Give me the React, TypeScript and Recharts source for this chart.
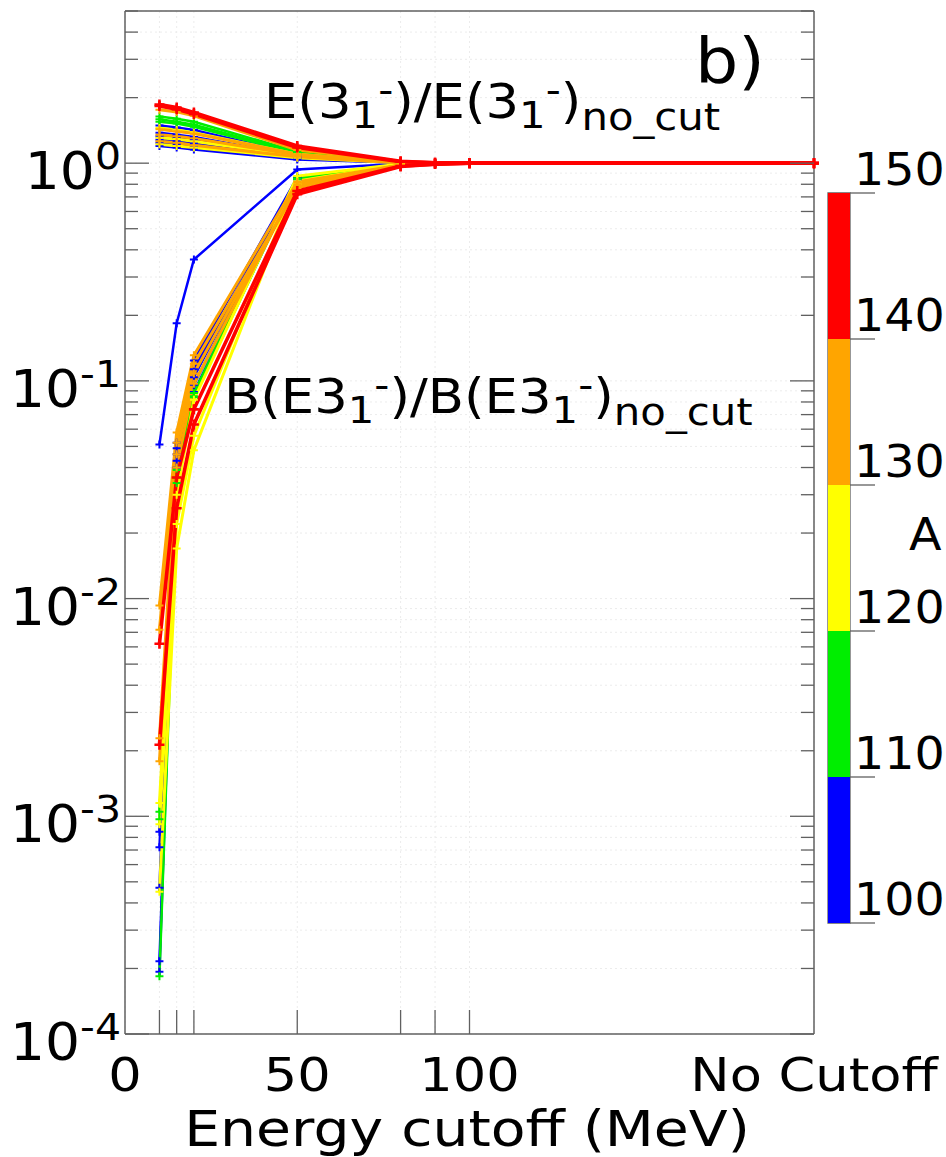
import { LineChart, Line, XAxis, YAxis, CartesianGrid, BarChart, Bar, ReferenceArea } from 'recharts';

const FONT = '"DejaVu Sans", sans-serif';

// energy cutoffs in MeV; 200 stands for the uncut calculation
const CUTOFFS = [10, 15, 20, 50, 80, 90, 100, 200];
const X_MARKS = [10, 15, 20, 50, 80, 90, 100];
const X_LABELS: Record<number, string> = { 0: '0', 50: '50', 100: '100', 200: 'No Cutoff' };

// mass number of each nucleus, one row of E_RATIO / B_RATIO per entry
const MASS = [100, 101, 102, 104, 106, 108, 112, 114, 116, 120, 124, 128, 130, 132, 134, 136, 140, 144];

const E_RATIO = [
  [1.2, 1.18, 1.155, 1.04, 1.005, 1.0, 1.0, 1.0],
  [1.49, 1.46, 1.42, 1.1, 1.01, 1.0, 1.0, 1.0],
  [1.38, 1.35, 1.32, 1.08, 1.01, 1.0, 1.0, 1.0],
  [1.33, 1.31, 1.28, 1.07, 1.01, 1.0, 1.0, 1.0],
  [1.28, 1.26, 1.23, 1.06, 1.005, 1.0, 1.0, 1.0],
  [1.24, 1.22, 1.19, 1.05, 1.005, 1.0, 1.0, 1.0],
  [1.64, 1.6, 1.55, 1.13, 1.01, 1.0, 1.0, 1.0],
  [1.59, 1.55, 1.5, 1.12, 1.01, 1.0, 1.0, 1.0],
  [1.55, 1.52, 1.47, 1.11, 1.01, 1.0, 1.0, 1.0],
  [1.31, 1.29, 1.26, 1.08, 1.01, 1.0, 1.0, 1.0],
  [1.22, 1.2, 1.18, 1.06, 1.005, 1.0, 1.0, 1.0],
  [1.45, 1.42, 1.38, 1.1, 1.01, 1.0, 1.0, 1.0],
  [1.26, 1.24, 1.21, 1.07, 1.005, 1.0, 1.0, 1.0],
  [1.35, 1.33, 1.3, 1.09, 1.01, 1.0, 1.0, 1.0],
  [1.43, 1.4, 1.37, 1.1, 1.01, 1.0, 1.0, 1.0],
  [1.76, 1.72, 1.65, 1.15, 1.015, 1.005, 1.0, 1.0],
  [1.83, 1.77, 1.68, 1.18, 1.015, 1.005, 1.0, 1.0],
  [1.86, 1.8, 1.71, 1.2, 1.02, 1.005, 1.0, 1.0],
];

const B_RATIO = [
  [0.051, 0.184, 0.361, 0.935, 0.995, 1.0, 1.0, 1.0],
  [0.00085, 0.052, 0.124, 0.86, 0.985, 0.995, 1.0, 1.0],
  [0.00072, 0.049, 0.113, 0.855, 0.985, 0.995, 1.0, 1.0],
  [0.00047, 0.046, 0.104, 0.85, 0.985, 0.995, 1.0, 1.0],
  [0.000216, 0.043, 0.096, 0.845, 0.985, 0.995, 1.0, 1.0],
  [0.000193, 0.04, 0.089, 0.84, 0.985, 0.995, 1.0, 1.0],
  [0.00105, 0.039, 0.088, 0.85, 0.985, 0.995, 1.0, 1.0],
  [0.000184, 0.034, 0.084, 0.845, 0.985, 0.995, 1.0, 1.0],
  [0.00097, 0.036, 0.085, 0.85, 0.985, 0.995, 1.0, 1.0],
  [0.00115, 0.03, 0.082, 0.872, 0.99, 0.995, 1.0, 1.0],
  [0.00045, 0.017, 0.048, 0.8, 0.98, 0.995, 1.0, 1.0],
  [0.00092, 0.022, 0.056, 0.827, 0.985, 0.995, 1.0, 1.0],
  [0.00179, 0.04, 0.097, 0.8, 0.98, 0.995, 1.0, 1.0],
  [0.00228, 0.046, 0.108, 0.785, 0.98, 0.995, 1.0, 1.0],
  [0.0072, 0.052, 0.12, 0.77, 0.975, 0.995, 1.0, 1.0],
  [0.0093, 0.058, 0.131, 0.82, 0.98, 0.995, 1.0, 1.0],
  [0.00213, 0.026, 0.063, 0.72, 0.965, 0.99, 1.0, 1.0],
  [0.0062, 0.036, 0.074, 0.745, 0.97, 0.99, 1.0, 1.0],
];

// colour scale for A
const BAND_EDGES = [100, 110, 120, 130, 140, 150];
const BAND_COLORS = ['#0000ff', '#00ee00', '#ffff00', '#ffa500', '#ff0000'];
const BAND_WIDTHS = [2.5, 2.5, 3, 3, 3.6];

const bandOf = (a: number) => {
  for (let i = 1; i < BAND_EDGES.length; i++) if (a < BAND_EDGES[i]) return i - 1;
  return BAND_COLORS.length - 1;
};

// log axis ticks: 1..9 per decade up to 5
const Y_TICKS: number[] = [];
for (let d = -4; d <= 0; d++) {
  for (let m = 1; m <= 9; m++) {
    if (d === 0 && m > 5) break;
    Y_TICKS.push(Number((m * Math.pow(10, d)).toPrecision(3)));
  }
}
const isMajor = (v: number) => Math.abs(Math.log10(v) - Math.round(Math.log10(v))) < 1e-6;

const data = CUTOFFS.map((c, j) => {
  const row: Record<string, number> = { cut: c };
  MASS.forEach((_, i) => {
    row['e' + i] = E_RATIO[i][j];
    row['b' + i] = B_RATIO[i][j];
  });
  return row;
});

const colorbarRow = [
  BAND_EDGES.slice(1).reduce((acc, edge, i) => {
    acc['s' + i] = i === 0 ? edge : edge - BAND_EDGES[i];
    return acc;
  }, {} as Record<string, number>),
];

const AXIS = '#606060';

const BottomTick = ({ x, y, payload }: any) => {
  const v = payload.value;
  return (
    <g>
      {X_MARKS.includes(v) && <line x1={x} x2={x} y1={y} y2={y - 24} stroke={AXIS} strokeWidth={1.3} />}
      {X_LABELS[v] !== undefined && (
        <text transform={`translate(${x},${y + 57}) scale(1.12,1)`} textAnchor="middle" fontSize={47} fontFamily={FONT} fill="#000">
          {X_LABELS[v]}
        </text>
      )}
    </g>
  );
};

const TopTick = ({ x, y, payload }: any) =>
  X_MARKS.includes(payload.value) ? <line x1={x} x2={x} y1={y} y2={y + 24} stroke={AXIS} strokeWidth={1.3} /> : <g />;

const LeftTick = ({ x, y, payload }: any) => {
  const v = payload.value;
  const major = isMajor(v);
  const exp = Math.round(Math.log10(v));
  return (
    <g>
      <line x1={x} x2={x + (major ? 24 : 13)} y1={y} y2={y} stroke={AXIS} strokeWidth={1.3} />
      {major && (
        <text transform={`translate(${x - 4},${y + 26}) scale(1.08,1)`} textAnchor="end" fontSize={51} fontFamily={FONT} fill="#000">
          <tspan>10</tspan>
          <tspan fontSize={38} dy={-20}>{exp}</tspan>
        </text>
      )}
    </g>
  );
};

const RightTick = ({ x, y, payload }: any) => (
  <line x1={x} x2={x - (isMajor(payload.value) ? 24 : 13)} y1={y} y2={y} stroke={AXIS} strokeWidth={1.3} />
);

const ColorbarTick = ({ x, y, payload }: any) => (
  <g>
    <line x1={x} x2={x + 25} y1={y} y2={y} stroke={AXIS} strokeWidth={1.3} />
    <text transform={`translate(${x + 4},${y - 8}) scale(1.08,1)`} fontSize={44} fontFamily={FONT} fill="#000">
      {payload.value}
    </text>
  </g>
);

const crossDot = (color: string, w: number) => (p: any) => {
  if (p.cx == null || p.cy == null) return <g key={`${p.dataKey}-${p.index}`} />;
  const s = w > 3 ? 5 : 4;
  return (
    <path
      key={`${p.dataKey}-${p.index}`}
      d={`M${p.cx - s},${p.cy}h${2 * s}M${p.cx},${p.cy - s}v${2 * s}`}
      stroke={color}
      strokeWidth={w > 3 ? 2.6 : 2}
      fill="none"
    />
  );
};

// subscript inside the ratio labels
const Sub = ({ children }: any) => <tspan fontSize={38} dy={10}>{children}</tspan>;

export default function App() {
  return (
    <div style={{ position: 'absolute', left: 0, top: 0, width: 946, height: 1157, background: '#fff', fontFamily: FONT }}>
      <div style={{ position: 'absolute', left: 0, top: 0 }}>
        <LineChart width={946} height={1157} data={data} margin={{ top: 0, right: 0, bottom: 0, left: 0 }}>
          <CartesianGrid xAxisId="x" yAxisId="y" stroke="#ececec" strokeDasharray="2 3" />
          <XAxis
            xAxisId="x"
            dataKey="cut"
            type="number"
            domain={[0, 200]}
            ticks={[0, ...X_MARKS, 200]}
            interval={0}
            height={123}
            tickSize={0}
            tickMargin={0}
            tickLine={false}
            axisLine={{ stroke: AXIS, strokeWidth: 1.5 }}
            tick={<BottomTick />}
          />
          <XAxis
            xAxisId="xt"
            orientation="top"
            type="number"
            domain={[0, 200]}
            ticks={X_MARKS}
            interval={0}
            height={11}
            tickSize={0}
            tickMargin={0}
            tickLine={false}
            axisLine={{ stroke: AXIS, strokeWidth: 1.5 }}
            tick={<TopTick />}
          />
          <YAxis
            yAxisId="y"
            scale="log"
            domain={[1e-4, 5]}
            allowDataOverflow
            ticks={Y_TICKS}
            interval={0}
            width={125}
            tickSize={0}
            tickMargin={0}
            tickLine={false}
            axisLine={{ stroke: AXIS, strokeWidth: 1.5 }}
            tick={<LeftTick />}
          />
          <YAxis
            yAxisId="yr"
            orientation="right"
            scale="log"
            domain={[1e-4, 5]}
            allowDataOverflow
            ticks={Y_TICKS}
            interval={0}
            width={132}
            tickSize={0}
            tickMargin={0}
            tickLine={false}
            axisLine={{ stroke: AXIS, strokeWidth: 1.5 }}
            tick={<RightTick />}
          />
          {MASS.flatMap((a, i) => {
            const band = bandOf(a);
            const color = BAND_COLORS[band];
            const w = BAND_WIDTHS[band];
            return ['b', 'e'].map((k) => (
              <Line
                key={k + a}
                xAxisId="x"
                yAxisId="y"
                dataKey={k + i}
                stroke={color}
                strokeWidth={w}
                dot={crossDot(color, w)}
                activeDot={false}
                isAnimationActive={false}
              />
            ));
          })}
        </LineChart>
      </div>

      <div style={{ position: 'absolute', left: 800, top: 0 }}>
        <BarChart width={146} height={1157} data={colorbarRow} barCategoryGap={0} margin={{ top: 193, bottom: 234, left: 28, right: 0 }}>
          <XAxis hide type="category" />
          <YAxis
            orientation="right"
            domain={[BAND_EDGES[0], BAND_EDGES[BAND_EDGES.length - 1]]}
            allowDataOverflow
            ticks={BAND_EDGES}
            interval={0}
            width={96}
            tickSize={0}
            tickMargin={0}
            tickLine={false}
            axisLine={false}
            tick={<ColorbarTick />}
          />
          {BAND_COLORS.map((c, i) => (
            <Bar key={c} dataKey={'s' + i} stackId="a" fill={c} isAnimationActive={false} />
          ))}
          <ReferenceArea y1={BAND_EDGES[0]} y2={BAND_EDGES[BAND_EDGES.length - 1]} fill="none" stroke={AXIS} strokeWidth={1.3} />
        </BarChart>
      </div>

      <svg width={946} height={1157} style={{ position: 'absolute', left: 0, top: 0, pointerEvents: 'none' }}>
        <g fontFamily={FONT} fill="#000">
          <text transform="translate(695,82) scale(1.1,1)" fontSize={62}>b)</text>
          <text transform="translate(264,118) scale(1.1,1)" fontSize={48}>
            E(3<Sub>1</Sub><tspan fontSize={38} dy={-25}>-</tspan><tspan dy={15}>)/E(3</tspan>
            <Sub>1</Sub><tspan fontSize={38} dy={-25}>-</tspan><tspan dy={15}>)</tspan>
            <tspan fontSize={38} dy={12}>no_cut</tspan>
          </text>
          <text transform="translate(224,413) scale(1.1,1)" fontSize={48}>
            B(E3<Sub>1</Sub><tspan fontSize={38} dy={-25}>-</tspan><tspan dy={15}>)/B(E3</tspan>
            <Sub>1</Sub><tspan fontSize={38} dy={-25}>-</tspan><tspan dy={15}>)</tspan>
            <tspan fontSize={38} dy={12}>no_cut</tspan>
          </text>
          <text transform="translate(467,1146) scale(1.16,1)" textAnchor="middle" fontSize={49}>Energy cutoff (MeV)</text>
          <text transform="translate(909,550) scale(1.08,1)" fontSize={44}>A</text>
        </g>
      </svg>
    </div>
  );
}
